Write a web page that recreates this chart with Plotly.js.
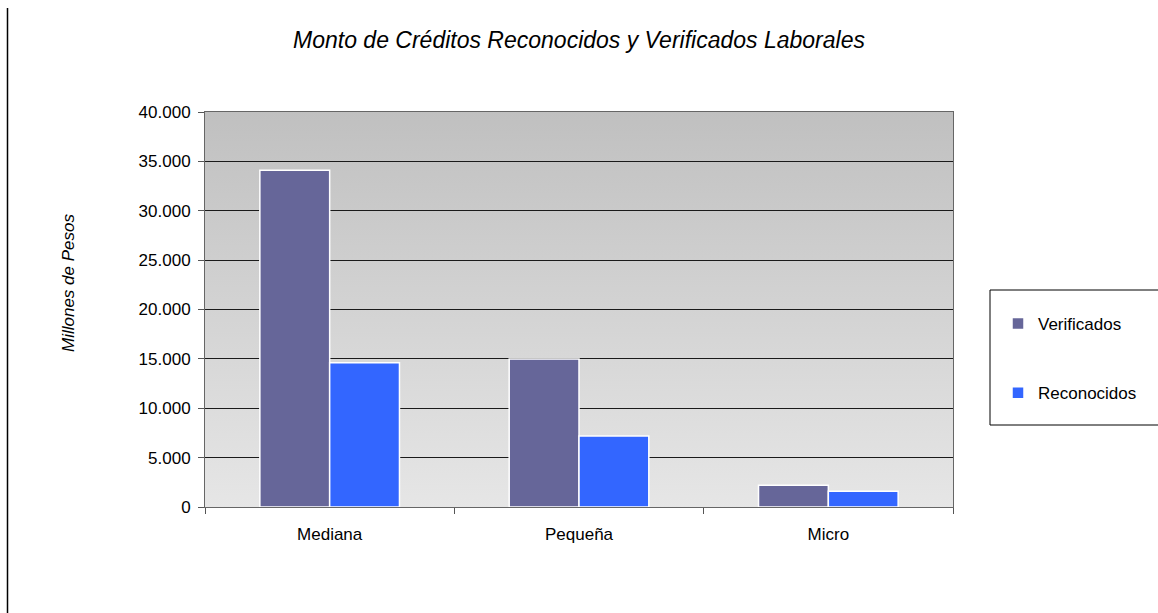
<!DOCTYPE html>
<html>
<head>
<meta charset="utf-8">
<script src="https://cdn.plot.ly/plotly-3.0.1.min.js"></script>
<style>html,body{margin:0;padding:0;background:#fff;}#chart{width:1158px;height:613px;}</style>
</head>
<body>
<div id="chart"></div>
<script>
const categories = ["Mediana", "Pequeña", "Micro"];
const verificados = [34100, 15000, 2200];
const reconocidos = [14600, 7200, 1600];
const seriesNames = ["Verificados", "Reconocidos"];
const chartTitle = "Monto de Créditos Reconocidos y Verificados Laborales";
const yTitle = "Millones de Pesos";

const W = 1158, H = 613;
const L = 205, R = 953, T = 112, B = 507;
const pw = R - L, ph = B - T;
const px = x => (x - L) / pw;
const py = y => (B - y) / ph;

const gradSvg = '<svg xmlns="http://www.w3.org/2000/svg" width="100" height="100" preserveAspectRatio="none">' +
  '<defs><linearGradient id="g" x1="0" y1="0" x2="0" y2="1">' +
  '<stop offset="0" stop-color="#c0c0c0"/><stop offset="1" stop-color="#e6e6e6"/>' +
  '</linearGradient></defs><rect width="100" height="100" fill="url(#g)"/></svg>';
const gradUri = 'data:image/svg+xml;base64,' + btoa(gradSvg);

const font = "Liberation Sans, Arial, sans-serif";

const traces = [
  {type: 'bar', name: seriesNames[0], x: categories, y: verificados, legendgroup: 'a',
   marker: {color: '#666699', line: {color: '#ffffff', width: 1.5}}},
  {type: 'bar', name: seriesNames[1], x: categories, y: reconocidos, legendgroup: 'b',
   marker: {color: '#3366ff', line: {color: '#ffffff', width: 1.5}}}
];

const layout = {
  width: W, height: H,
  margin: {l: L, r: W - R, t: T, b: H - B, autoexpand: false},
  paper_bgcolor: '#ffffff',
  plot_bgcolor: 'rgba(0,0,0,0)',
  separators: ',.',
  font: {family: font, size: 17, color: '#000'},
  title: {text: chartTitle, font: {family: font, size: 23, color: '#000', style: 'italic'},
          x: 0.5, xref: 'paper', xanchor: 'center', y: 1 - 40 / H, yanchor: 'middle'},
  barmode: 'group',
  bargap: 0.44,
  bargroupgap: 0,
  showlegend: true,
  legend: {x: px(998), y: py(306), xanchor: 'left', yanchor: 'top',
           bgcolor: 'rgba(0,0,0,0)', borderwidth: 0, tracegroupgap: 44,
           font: {family: font, size: 17, color: '#000'}},
  xaxis: {type: 'category', tickson: 'boundaries', ticks: 'outside', ticklen: 6,
          tickcolor: '#555', showline: true, linecolor: '#666', linewidth: 1, mirror: true,
          showgrid: false, tickfont: {family: font, size: 17}, ticklabelstandoff: 12,
          fixedrange: true},
  yaxis: {range: [0, 40000], dtick: 5000, tick0: 0, tickformat: ',d', ticks: 'outside',
          ticklen: 6, tickcolor: '#555', showline: true, linecolor: '#666', linewidth: 1,
          mirror: true, showgrid: true, gridcolor: '#1a1a1a', gridwidth: 1, zeroline: false,
          tickfont: {family: font, size: 17}, ticklabelstandoff: 4,
          fixedrange: true},
  annotations: [
    {text: yTitle, xref: 'paper', yref: 'paper', x: px(68), y: py(283), xanchor: 'center',
     yanchor: 'middle', textangle: -90, showarrow: false,
     font: {family: font, size: 17, style: 'italic', color: '#000'}}
  ],
  images: [{source: gradUri, xref: 'paper', yref: 'paper', x: 0, y: 1, sizex: 1, sizey: 1,
            sizing: 'stretch', xanchor: 'left', yanchor: 'top', layer: 'below'}],
  shapes: [
    {type: 'rect', xref: 'paper', yref: 'paper', x0: px(990), x1: px(1170), y0: py(290), y1: py(425),
     line: {color: '#000', width: 1}, fillcolor: 'rgba(0,0,0,0)'},
    {type: 'line', xref: 'paper', yref: 'paper', x0: px(7.5), x1: px(7.5), y0: py(8), y1: py(613),
     line: {color: '#000', width: 1.5}}
  ]
};

Plotly.newPlot('chart', traces, layout, {staticPlot: true, displayModeBar: false});
</script>
</body>
</html>
